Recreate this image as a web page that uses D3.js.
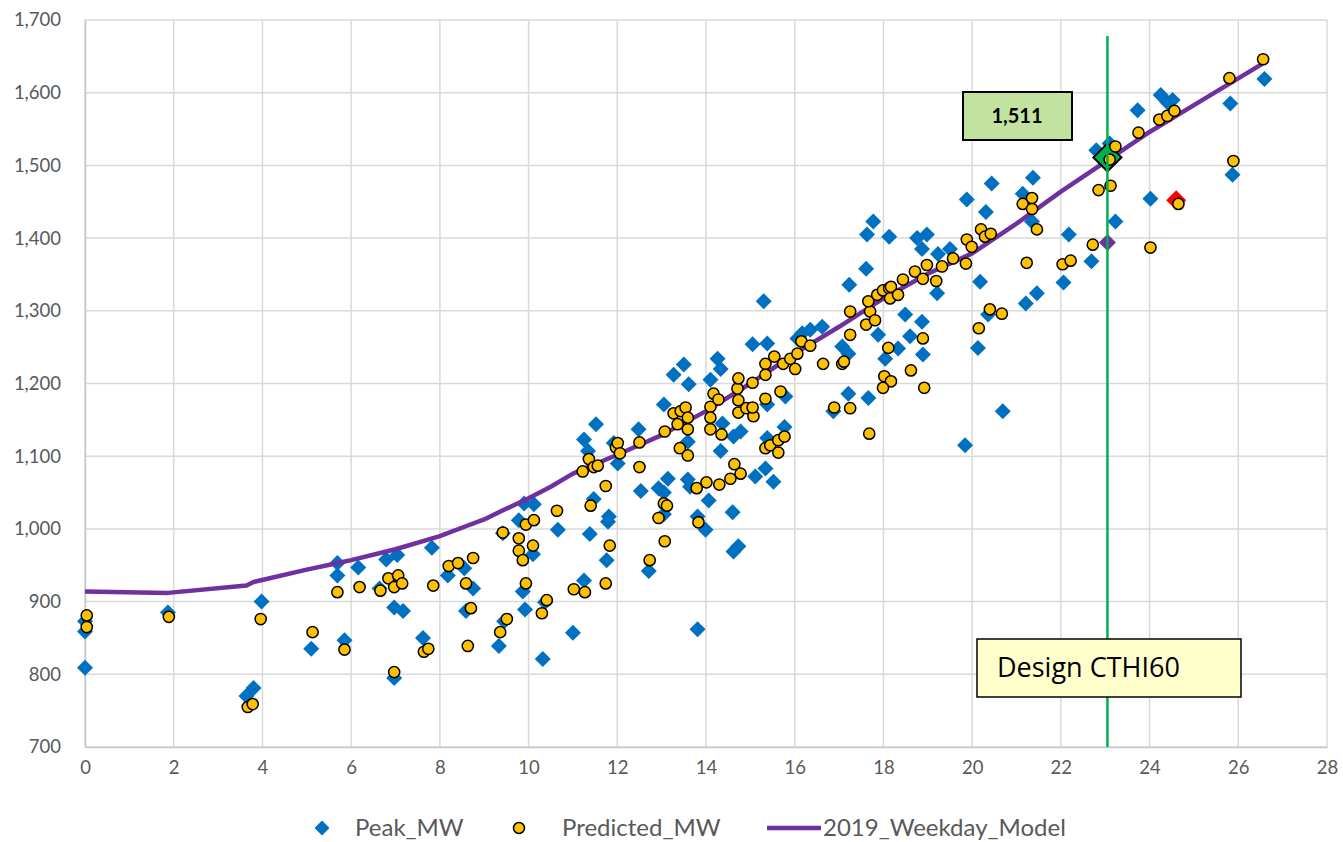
<!DOCTYPE html>
<html>
<head>
<meta charset="utf-8">
<script src="https://cdn.jsdelivr.net/npm/d3@7"></script>
<style>
  html, body { margin: 0; padding: 0; background: #ffffff; }
  svg { display: block; }
  text { font-family: Lato, "Open Sans", sans-serif; }
</style>
</head>
<body>
<svg id="chart" width="1343" height="842"></svg>
<script>
// Daily peak load (MW) against the weather index, with predicted values and the weekday model
const xTicks = [0, 2, 4, 6, 8, 10, 12, 14, 16, 18, 20, 22, 24, 26, 28];
const yTicks = [700, 800, 900, 1000, 1100, 1200, 1300, 1400, 1500, 1600, 1700];

const peakMW = [
  [0, 873], [0, 859], [0, 809], [1.87, 885], [3.98, 900], [3.64, 770], [3.8, 781],
  [5.1, 835], [5.69, 953], [5.69, 936], [6.16, 947], [5.85, 847], [6.64, 918],
  [6.79, 958], [7.04, 964], [6.97, 892], [7.17, 887], [6.97, 795], [7.62, 850],
  [7.82, 974], [8.18, 936], [8.55, 946], [8.75, 918], [8.59, 887], [9.33, 839],
  [9.45, 873], [9.92, 889], [9.87, 914], [10.37, 899], [10.32, 821], [11.0, 857],
  [11.25, 929], [11.76, 957], [11.79, 1010], [11.81, 1017], [11.38, 993], [11.47, 1041],
  [11.25, 1123], [11.52, 1144], [11.34, 1107], [11.92, 1118], [12.01, 1090], [12.48, 1137],
  [12.53, 1052], [12.71, 942], [13.05, 1171], [13.14, 1069], [13.59, 1068], [12.93, 1056],
  [13.64, 1058], [13.05, 1050], [13.05, 1020], [13.81, 1017], [13.99, 999], [13.81, 862],
  [14.06, 1039], [14.6, 1023], [14.62, 969], [14.73, 976], [14.33, 1107], [15.11, 1072],
  [15.52, 1065], [15.34, 1083], [15.77, 1140], [13.27, 1212], [13.5, 1226], [13.61, 1199],
  [14.26, 1234], [14.33, 1220], [14.1, 1205], [15.05, 1254], [15.38, 1255], [15.3, 1313],
  [16.06, 1262], [16.17, 1269], [16.35, 1274], [16.62, 1278], [14.78, 1134], [14.62, 1127],
  [14.37, 1145], [13.59, 1120], [15.38, 1171], [15.79, 1182], [15.38, 1125], [9.78, 1012],
  [10.1, 965], [9.9, 1035], [10.12, 1034], [9.42, 994], [10.66, 999],
  [16.87, 1162], [17.07, 1251], [17.21, 1241], [17.23, 1336], [17.21, 1186], [17.66, 1180],
  [17.63, 1405], [17.77, 1423], [18.13, 1402], [17.61, 1358], [17.88, 1267], [18.49, 1295],
  [18.87, 1285], [18.6, 1265], [18.89, 1240], [18.33, 1248], [18.04, 1234], [18.76, 1400],
  [18.98, 1405], [18.87, 1385], [19.23, 1378], [19.5, 1385], [19.21, 1324], [19.88, 1453],
  [20.31, 1436], [20.44, 1475], [20.18, 1340], [20.13, 1249], [20.69, 1162], [19.84, 1115],
  [20.36, 1295], [21.14, 1461], [21.37, 1483], [21.35, 1423], [21.46, 1324], [21.21, 1310],
  [22.18, 1405], [22.69, 1368], [22.06, 1339], [22.8, 1521], [23.1, 1530], [23.23, 1423],
  [23.73, 1576], [24.02, 1454], [24.25, 1597], [24.52, 1590], [24.4, 1587], [25.82, 1585],
  [25.87, 1487], [26.59, 1619]
];

const predictedMW = [
  [0.04, 881], [0.04, 865], [1.89, 879], [3.96, 876], [3.67, 755], [3.78, 759], [5.13, 858],
  [5.69, 913], [6.19, 920], [5.85, 834], [6.66, 915], [6.84, 932], [7.06, 936], [6.97, 920],
  [7.15, 925], [6.97, 803], [7.64, 831], [7.74, 835], [7.85, 922], [8.2, 949],
  [8.41, 953], [8.75, 960], [8.59, 925], [8.7, 891], [8.63, 839], [9.36, 858], [9.51, 876],
  [9.94, 925], [10.3, 884], [10.41, 902], [11.02, 917], [11.27, 913], [11.74, 925],
  [11.83, 977], [11.4, 1032], [11.74, 1059], [11.22, 1079], [11.36, 1096], [11.47, 1085],
  [11.56, 1087], [11.97, 1112], [12.01, 1118], [12.06, 1104], [12.5, 1119], [12.5, 1085],
  [12.73, 957], [13.07, 983], [13.07, 1134], [13.27, 1159], [13.43, 1162], [13.54, 1167],
  [13.59, 1153], [13.36, 1144], [13.59, 1137], [13.41, 1111], [13.59, 1101], [13.05, 1035],
  [13.12, 1032], [12.93, 1015], [13.83, 1009], [13.79, 1056], [14.01, 1064], [14.3, 1061],
  [14.55, 1069], [14.64, 1089], [14.78, 1076], [15.34, 1111], [15.45, 1115], [15.63, 1122],
  [15.77, 1127], [15.63, 1105], [14.1, 1168], [14.17, 1186], [14.1, 1153], [14.1, 1137],
  [14.35, 1130], [14.28, 1178], [14.71, 1193], [14.73, 1177], [14.73, 1160], [14.91, 1166],
  [15.07, 1155], [15.05, 1167], [15.34, 1179], [15.68, 1189],
  [9.78, 987], [9.78, 970], [9.87, 957], [10.1, 977], [9.94, 1006], [10.12, 1012],
  [10.64, 1025], [9.42, 995],
  [14.73, 1207], [15.05, 1201], [15.34, 1227], [15.34, 1212], [15.54, 1237], [15.74, 1227],
  [15.9, 1234], [16.01, 1220], [16.06, 1241], [16.15, 1258], [16.35, 1252],
  [16.64, 1227], [17.07, 1227], [17.11, 1230], [17.25, 1267], [17.25, 1299], [16.89, 1167],
  [17.25, 1166], [17.68, 1131], [17.61, 1281], [17.7, 1299], [17.81, 1287], [17.66, 1313],
  [17.86, 1322], [17.99, 1328], [18.13, 1331], [18.17, 1333], [18.15, 1317], [18.33, 1322],
  [18.44, 1343], [18.71, 1354], [18.89, 1344], [18.98, 1363], [19.19, 1341], [19.32, 1361],
  [19.57, 1372], [19.86, 1365], [18.11, 1249], [18.02, 1210], [18.17, 1203], [17.99, 1194],
  [18.62, 1218], [18.92, 1194], [18.89, 1262], [19.88, 1398], [19.99, 1388], [20.2, 1412],
  [20.29, 1402], [20.42, 1406], [20.4, 1302], [20.67, 1296], [20.15, 1276], [21.14, 1447],
  [21.35, 1455], [21.35, 1440], [21.46, 1412], [21.23, 1366],
  [22.72, 1391], [22.04, 1364], [22.22, 1369], [23.1, 1508], [23.23, 1526], [22.85, 1466],
  [23.12, 1472], [23.75, 1545], [24.02, 1387], [24.22, 1563], [24.4, 1568], [24.56, 1575],
  [24.65, 1447], [25.8, 1620], [25.89, 1506], [26.56, 1646]
];

// 2019 weekday regression model, traced along the weather index
const modelTemp = [0, 1.87, 3.64, 3.8, 5, 5.7, 6, 7, 8, 8.6, 9, 9.4, 10, 10.5, 11, 12, 13, 14, 15,
  16, 17, 18, 19, 20, 21, 22, 23, 24, 25, 26.55];
const modelMW = [914, 912, 922, 927, 944, 953, 957, 972, 990, 1004, 1013, 1025, 1042, 1058, 1076,
  1102, 1129, 1162, 1200, 1241, 1278, 1317, 1351, 1379, 1420, 1464, 1505, 1546, 1583, 1640];

// Design point: temperature index and design peak
const designTemp = [23.05];
const designMW = [1511];
const designModelMW = [1394];
const outlierPoint = [[24.6, 1452]];

const seriesNames = ["Peak_MW", "Predicted_MW", "2019_Weekday_Model"];
const designLabel = "Design CTHI60";

const colors = {
  peak: "#0070C0",
  predicted: "#FFC000",
  model: "#7030A0",
  design: "#00B050",
  grid: "#D9D9D9",
  text: "#595959"
};

const svg = d3.select("#chart");
const x = d3.scaleLinear().domain([0, 28]).range([85, 1327]);
const y = d3.scaleLinear().domain([700, 1700]).range([747, 20]);

// Gridlines
const grid = svg.append("g");
grid.selectAll("line.h").data(yTicks).join("line")
  .attr("x1", x(0)).attr("x2", x(28))
  .attr("y1", d => y(d)).attr("y2", d => y(d))
  .attr("stroke", colors.grid).attr("stroke-width", 1.5);
grid.selectAll("line.v").data(xTicks).join("line")
  .attr("y1", y(700)).attr("y2", y(1700))
  .attr("x1", d => x(d)).attr("x2", d => x(d))
  .attr("stroke", colors.grid).attr("stroke-width", 1.5);

// Axes
const xAxis = d3.axisBottom(x).tickValues(xTicks).tickSize(0).tickPadding(14)
  .tickFormat(d3.format("d"));
const yAxis = d3.axisLeft(y).tickValues(yTicks).tickSize(0).tickPadding(24)
  .tickFormat(d3.format(","));
const gx = svg.append("g").attr("transform", `translate(0,${y(700)})`).call(xAxis);
const gy = svg.append("g").attr("transform", `translate(${x(0)},0)`).call(yAxis);
[gx, gy].forEach(g => {
  g.select(".domain").attr("stroke", "#C8C8C8").attr("stroke-width", 1.5);
  g.selectAll("text").attr("fill", colors.text).style("font-size", "18.5px")
    .style("font-family", "Lato, sans-serif");
});

// Diamond path: square rotated 45 degrees, half-diagonal h
const diamond = h => `M0,${-h}L${h},0L0,${h}L${-h},0Z`;

// Peak_MW markers
svg.append("g").selectAll("path").data(peakMW).join("path")
  .attr("d", diamond(8))
  .attr("transform", d => `translate(${x(d[0])},${y(d[1])})`)
  .attr("fill", colors.peak);

// Model value at the design point
svg.append("g").selectAll("path").data(designModelMW).join("path")
  .attr("d", diamond(8.5))
  .attr("transform", (d, i) => `translate(${x(designTemp[i])},${y(d)})`)
  .attr("fill", colors.model);

// Weekday model line
const line = d3.line().x(d => x(d[0])).y(d => y(d[1]));
svg.append("path")
  .datum(modelTemp.map((t, i) => [t, modelMW[i]]))
  .attr("d", line)
  .attr("fill", "none")
  .attr("stroke", colors.model)
  .attr("stroke-width", 4.5)
  .attr("stroke-linejoin", "round");

// Highlighted outlier and design peak
svg.append("g").selectAll("path").data(outlierPoint).join("path")
  .attr("d", diamond(10))
  .attr("transform", d => `translate(${x(d[0])},${y(d[1])})`)
  .attr("fill", "#FF0000");
svg.append("g").selectAll("path").data(designMW).join("path")
  .attr("d", diamond(14))
  .attr("transform", (d, i) => `translate(${x(designTemp[i])},${y(d)})`)
  .attr("fill", colors.design)
  .attr("stroke", "#000").attr("stroke-width", 2);

// Predicted_MW markers
svg.append("g").selectAll("circle").data(predictedMW).join("circle")
  .attr("cx", d => x(d[0])).attr("cy", d => y(d[1])).attr("r", 5.6)
  .attr("fill", colors.predicted)
  .attr("stroke", "#000").attr("stroke-width", 1.5);

// Design temperature line
svg.append("g").selectAll("line").data(designTemp).join("line")
  .attr("x1", d => x(d)).attr("x2", d => x(d))
  .attr("y1", y(1678)).attr("y2", y(700))
  .attr("stroke", colors.design).attr("stroke-width", 2.5);

// Design value callout
const callout = svg.append("g");
callout.append("rect")
  .attr("x", 963).attr("y", 92).attr("width", 109).attr("height", 48)
  .attr("fill", "#C2E3A0").attr("stroke", "#000").attr("stroke-width", 2);
callout.selectAll("text").data(designMW).join("text")
  .attr("x", 1017).attr("y", 116).attr("dy", "0.35em")
  .attr("text-anchor", "middle")
  .style("font-size", "20px").style("font-weight", "bold")
  .attr("fill", "#000")
  .text(d => d3.format(",")(d));

// Design label box
const label = svg.append("g");
label.append("rect")
  .attr("x", 977).attr("y", 639).attr("width", 264).attr("height", 58)
  .attr("fill", "#FFFFCC").attr("stroke", "#000").attr("stroke-width", 1.5);
label.append("text")
  .attr("x", 997).attr("y", 668).attr("dy", "0.35em")
  .style("font-family", "'Open Sans', sans-serif")
  .style("font-size", "27px").attr("fill", "#000")
  .text(designLabel);

// Legend
const legend = svg.append("g").attr("transform", "translate(0,828)");
legend.append("path").attr("d", diamond(7.5))
  .attr("transform", "translate(322,0)").attr("fill", colors.peak);
legend.append("circle").attr("cx", 519).attr("cy", 0).attr("r", 5.5)
  .attr("fill", colors.predicted).attr("stroke", "#000").attr("stroke-width", 1.5);
legend.append("line").attr("x1", 767).attr("x2", 821).attr("y1", 0).attr("y2", 0)
  .attr("stroke", colors.model).attr("stroke-width", 4.5);
legend.selectAll("text").data(seriesNames).join("text")
  .attr("x", (d, i) => [355, 562, 823][i])
  .attr("y", 0).attr("dy", "0.35em")
  .attr("fill", colors.text)
  .style("font-size", "24px")
  .text(d => d);
</script>
</body>
</html>
